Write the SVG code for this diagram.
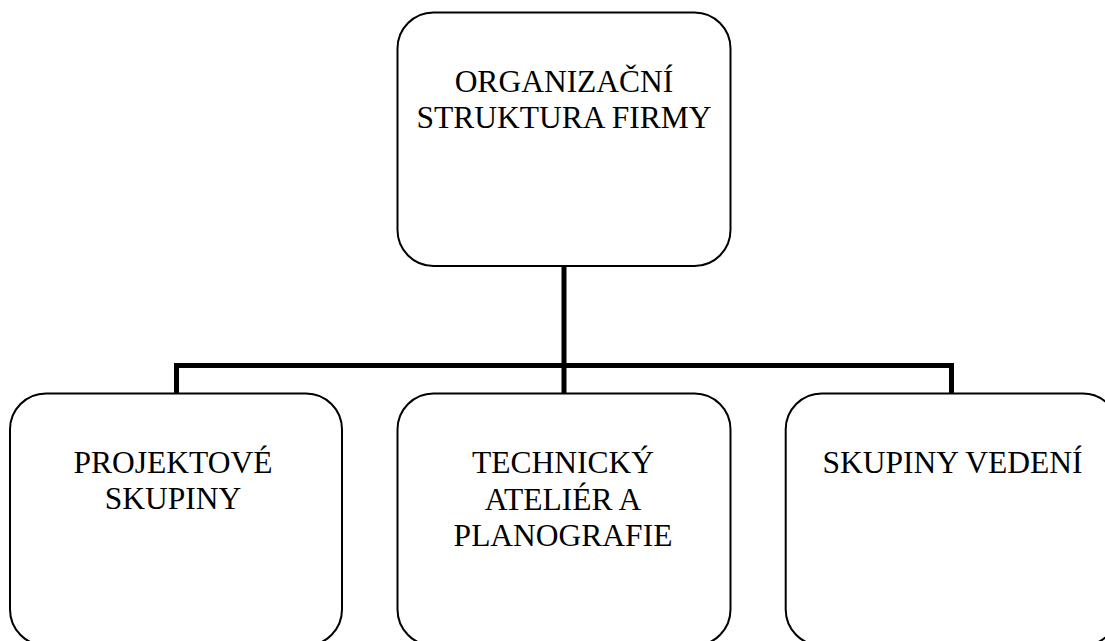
<svg xmlns="http://www.w3.org/2000/svg" width="1105" height="641" viewBox="0 0 1105 641">
<style>
.box{fill:#fff;stroke:#000;stroke-width:2}
.lbl{font-family:"Liberation Serif","Times New Roman",serif;font-size:31.5px;fill:#000;text-anchor:middle}
.conn{fill:none;stroke:#000;stroke-width:5;stroke-linecap:butt;stroke-linejoin:miter}
</style>
<rect width="1105" height="641" fill="#fff"/>
<g id="connectors">
<path class="conn" d="M564 266 V365.5"/>
<path class="conn" d="M176.5 393 V365.5 H951.5 V393"/>
<path class="conn" d="M564 365.5 V393"/>
</g>
<g id="node-top">
<rect class="box" x="397.5" y="12.5" width="333" height="253.5" rx="36" ry="36"/>
<text class="lbl" x="564" y="91.7">ORGANIZAČNÍ</text>
<text class="lbl" x="564" y="128.3">STRUKTURA FIRMY</text>
</g>
<g id="node-projektove">
<rect class="box" x="10" y="393.5" width="332" height="252" rx="36" ry="36"/>
<text class="lbl" x="173" y="472.5">PROJEKTOVÉ</text>
<text class="lbl" x="173" y="509">SKUPINY</text>
</g>
<g id="node-technicky">
<rect class="box" x="397.5" y="393.5" width="333" height="252" rx="36" ry="36"/>
<text class="lbl" x="563" y="473">TECHNICKÝ</text>
<text class="lbl" x="563" y="509.5">ATELIÉR A</text>
<text class="lbl" x="563" y="546">PLANOGRAFIE</text>
</g>
<g id="node-vedeni">
<rect class="box" x="785.7" y="393.5" width="333" height="252" rx="36" ry="36"/>
<text class="lbl" x="952.5" y="473">SKUPINY VEDENÍ</text>
</g>
</svg>
